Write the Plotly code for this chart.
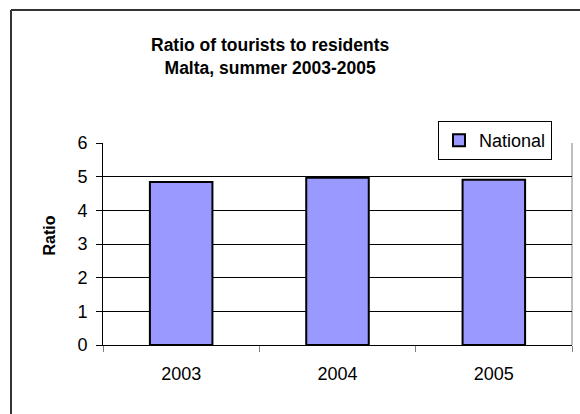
import plotly.graph_objects as go

years = ["2003", "2004", "2005"]
ratio = [4.84, 4.97, 4.91]
series_name = "National"
y_ticks = [0, 1, 2, 3, 4, 5, 6]

W, H = 580, 414
L, R, T, B = 103, 8, 143, 69
pw, ph = W - L - R, H - T - B

def px_x(x):
    return (x - L) / pw

def px_y(y):
    return (H - B - y) / ph

FONT = "Liberation Sans, Arial, sans-serif"

fig = go.Figure()
fig.add_trace(go.Bar(
    x=years, y=ratio, name=series_name, width=0.4,
    marker=dict(color="#9999FF", line=dict(color="#000000", width=2)),
    showlegend=True,
))

fig.update_layout(
    width=W, height=H,
    margin=dict(l=L, r=R, t=T, b=B, autoexpand=False),
    paper_bgcolor="white", plot_bgcolor="white",
    font=dict(family=FONT, color="black", size=18),
    bargap=0.6,
    showlegend=True,
    legend=dict(
        x=px_x(438), y=px_y(121), xanchor="left", yanchor="top",
        bordercolor="black", borderwidth=1, bgcolor="white",
        font=dict(size=18, family=FONT), itemwidth=30,
        tracegroupgap=0,
    ),
    xaxis=dict(
        type="category", tickson="boundaries", ticks="outside", ticklen=6,
        tickcolor="#808080", showline=True, linecolor="black", linewidth=1,
        showgrid=False, tickfont=dict(size=18), ticklabelstandoff=12,
    ),
    yaxis=dict(
        range=[0, 6], tickvals=y_ticks, ticks="outside", ticklen=6,
        tickcolor="black", showline=True, linecolor="black", linewidth=1,
        showgrid=True, gridcolor="black", gridwidth=1, zeroline=False,
        tickfont=dict(size=18), ticklabelstandoff=5,
    ),
    annotations=[
        dict(text="<b>Ratio of tourists to residents<br>Malta, summer 2003-2005</b>",
             xref="paper", yref="paper", x=px_x(270), y=px_y(33),
             xanchor="center", yanchor="top", showarrow=False,
             font=dict(size=17.5, family=FONT)),
        dict(text="<b>Ratio</b>", textangle=-90,
             xref="paper", yref="paper", x=px_x(49), y=px_y(235.5),
             xanchor="center", yanchor="middle", showarrow=False,
             font=dict(size=16, family=FONT)),
    ],
    shapes=[
        dict(type="line", xref="paper", yref="paper", x0=1, x1=1, y0=0, y1=1,
             line=dict(color="#808080", width=1), layer="between"),
        dict(type="line", xref="paper", yref="paper", x0=px_x(11), x1=px_x(11),
             y0=px_y(10), y1=px_y(420), line=dict(color="#333333", width=2)),
        dict(type="line", xref="paper", yref="paper", x0=px_x(11), x1=px_x(590),
             y0=px_y(10), y1=px_y(10), line=dict(color="#333333", width=2)),
    ],
)

fig.write_html(
    "out.html",
    config={"displayModeBar": False},
    post_script="document.body.style.margin='0px';document.body.style.padding='0px';",
)
